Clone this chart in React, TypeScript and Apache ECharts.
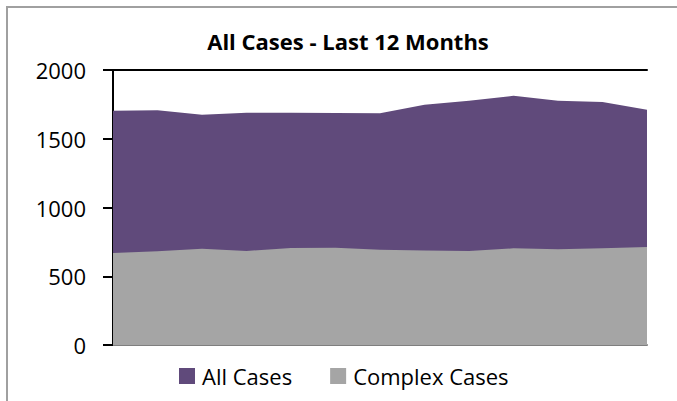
import React, { useEffect, useRef } from "react";
import * as echarts from "echarts";

const months = ["M1", "M2", "M3", "M4", "M5", "M6", "M7", "M8", "M9", "M10", "M11", "M12", "M13"];
const allCases = [1704, 1707, 1675, 1690, 1690, 1688, 1685, 1748, 1776, 1812, 1776, 1767, 1711];
const complexCases = [669, 681, 700, 684, 705, 708, 693, 688, 684, 703, 696, 703, 713];
const yTicks = { min: 0, max: 2000, interval: 500 };

const FONT = "'Open Sans', 'Noto Sans', sans-serif";

export default function App() {
  const ref = useRef<HTMLDivElement>(null);
  useEffect(() => {
    if (!ref.current) return;
    const chart = echarts.init(ref.current, null, { renderer: "svg" });
    chart.setOption({
      animation: false,
      backgroundColor: "#ffffff",
      title: {
        text: "All Cases - Last 12 Months",
        left: 343,
        top: 25,
        textAlign: "center",
        textStyle: { fontFamily: FONT, fontSize: 22, fontWeight: "bold", color: "#000" },
      },
      graphic: [
        {
          type: "rect",
          shape: { x: 7, y: 7, width: 720, height: 500 },
          style: { fill: "none", stroke: "#a0a0a0", lineWidth: 2 },
          silent: true,
        },
      ],
      legend: {
        left: 174,
        top: 360,
        itemWidth: 16,
        itemHeight: 16,
        itemGap: 38,
        icon: "rect",
        textStyle: { fontFamily: FONT, fontSize: 22, color: "#000", padding: [0, 0, 0, 2] },
        data: ["All Cases", "Complex Cases"],
      },
      grid: { left: 113, top: 70, right: 30, bottom: 56, containLabel: false },
      xAxis: [
        {
          type: "category",
          data: months,
          boundaryGap: false,
          position: "bottom",
          axisLine: { lineStyle: { color: "#7f7f7f", width: 2 } },
          axisTick: { show: false },
          axisLabel: { show: false },
          splitLine: { show: false },
        },
        {
          type: "category",
          data: months,
          boundaryGap: false,
          position: "top",
          axisLine: { lineStyle: { color: "#000", width: 2 } },
          axisTick: { show: false },
          axisLabel: { show: false },
          splitLine: { show: false },
        },
      ],
      yAxis: {
        type: "value",
        min: yTicks.min,
        max: yTicks.max,
        interval: yTicks.interval,
        axisLine: { show: true, lineStyle: { color: "#000", width: 2 } },
        axisTick: { show: true, length: 10, lineStyle: { color: "#000", width: 2 } },
        axisLabel: {
          margin: 27,
          fontFamily: FONT,
          fontSize: 22,
          color: "#000",
          formatter: (v: number) => String(v),
        },
        splitLine: { show: false },
      },
      series: [
        {
          name: "All Cases",
          type: "line",
          data: allCases,
          symbol: "none",
          lineStyle: { width: 0 },
          areaStyle: { color: "#604A7B", opacity: 1 },
          itemStyle: { color: "#604A7B" },
          z: 1,
        },
        {
          name: "Complex Cases",
          type: "line",
          data: complexCases,
          symbol: "none",
          lineStyle: { width: 0 },
          areaStyle: { color: "#A5A5A5", opacity: 1 },
          itemStyle: { color: "#A5A5A5" },
          z: 2,
        },
      ],
    });
    return () => chart.dispose();
  }, []);
  return (
    <div
      ref={ref}
      style={{ position: "absolute", left: 0, top: 0, width: 677, height: 401 }}
    />
  );
}
